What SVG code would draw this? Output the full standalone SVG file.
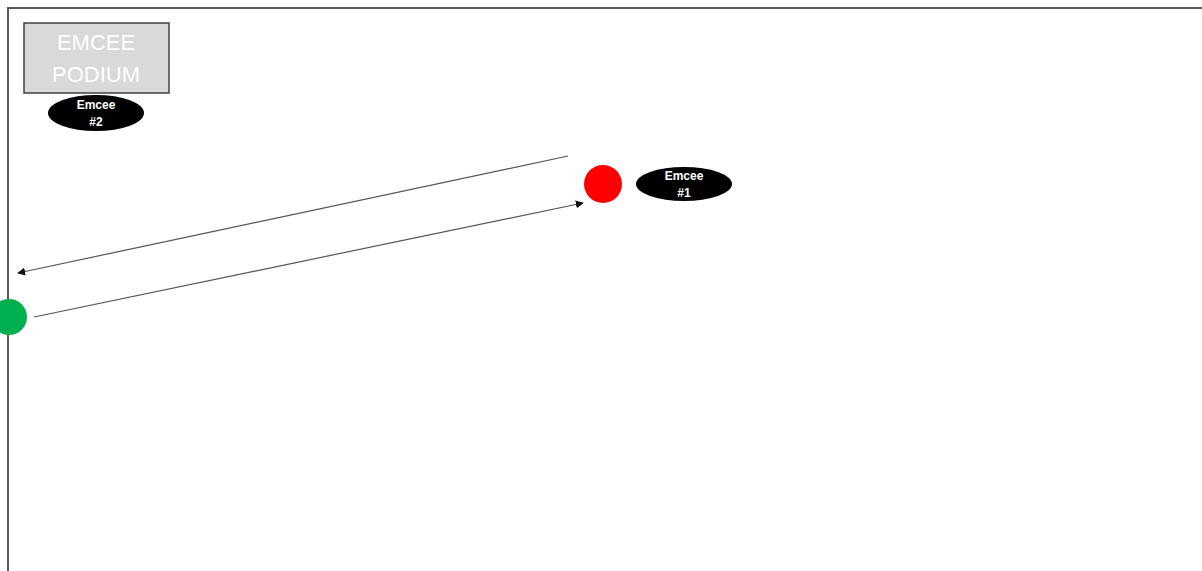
<svg xmlns="http://www.w3.org/2000/svg" width="1202" height="571" viewBox="0 0 1202 571">
<style>
.lbl{font-family:"Liberation Sans","Open Sans",sans-serif;fill:#fff;text-anchor:middle}
.small{font-size:12px;font-weight:bold}
.big{font-size:22px}
.conn{stroke:#555;stroke-width:1.2;fill:none;marker-end:url(#ah)}
</style>
<defs>
<marker id="ah" viewBox="0 0 10 10" refX="9" refY="5" markerWidth="8" markerHeight="8" markerUnits="userSpaceOnUse" orient="auto">
<path d="M0,0 L10,5 L0,10 z" fill="#111"/>
</marker>
</defs>
<rect width="1202" height="571" fill="#fff"/>
<path d="M8,571 L8,8 L1202,8" fill="none" stroke="#595959" stroke-width="2"/>
<g id="podium">
<rect x="24" y="23" width="145" height="70" fill="#d9d9d9" stroke="#404040" stroke-width="1.5"/>
<text class="lbl big" x="96" y="50">EMCEE</text>
<text class="lbl big" x="96" y="82">PODIUM</text>
</g>
<g id="emcee2">
<ellipse cx="96" cy="113" rx="48" ry="18" fill="#000"/>
<text class="lbl small" x="96" y="109">Emcee</text>
<text class="lbl small" x="96" y="126">#2</text>
</g>
<g id="red">
<circle cx="603" cy="184" r="19" fill="#ff0000"/>
</g>
<g id="emcee1">
<ellipse cx="684" cy="184" rx="48" ry="17" fill="#000"/>
<text class="lbl small" x="684" y="180">Emcee</text>
<text class="lbl small" x="684" y="197">#1</text>
</g>
<g id="green">
<circle cx="9" cy="317" r="18" fill="#00b050"/>
</g>
<g id="connectors">
<line class="conn" x1="568" y1="156" x2="18" y2="273"/>
<line class="conn" x1="34" y1="317" x2="583" y2="203"/>
</g>
</svg>
